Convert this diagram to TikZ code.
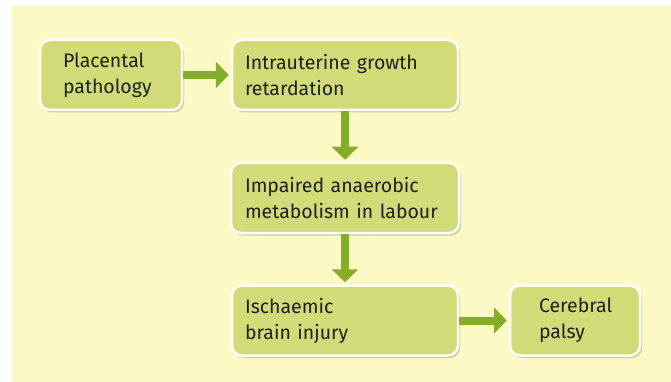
\documentclass[tikz,border=0pt]{standalone}
\usepackage{fontspec}
\setmainfont{Fira Sans}
\usetikzlibrary{arrows.meta,shadows}

\definecolor{bgyellow}{HTML}{FCF9C4}
\definecolor{boxgreen}{HTML}{D1DC78}
\definecolor{arrowgreen}{HTML}{84AE2A}
\definecolor{textdark}{HTML}{1E1E1E}

\tikzset{
  stepbox/.style={rounded corners=10pt, fill=boxgreen, draw=white, line width=2.5pt,
    drop shadow={shadow xshift=2pt, shadow yshift=-2.5pt, opacity=0.18, fill=black},
    align=left, minimum height=70pt, inner ysep=0pt, text=textdark,
    font=\fontsize{19.5}{26}\selectfont},
  flow/.style={arrowgreen, line width=8pt,
    -{Triangle[width=26pt,length=13pt]}, shorten >=2pt}
}

\begin{document}
\begin{tikzpicture}[x=1pt, y=-1pt]
  \useasboundingbox (0,0) rectangle (671,382);
  % Background
  \fill[bgyellow] (12,6) rectangle (671,382);

  % Boxes
  \node[stepbox, text width=96pt, inner xsep=23pt] (plac) at (111,75) {Placental\\pathology};
  \node[stepbox, text width=200pt, inner xsep=13pt] (iugr) at (345,75) {Intrauterine growth\\retardation};
  \node[stepbox, text width=200pt, inner xsep=14pt] (meta) at (345,198) {Impaired anaerobic\\metabolism in labour};
  \node[stepbox, text width=200pt, inner xsep=13pt] (isch) at (345,320.5) {Ischaemic\\brain injury};
  \node[stepbox, text width=72pt, inner xsep=29pt] (palsy) at (575,320.5) {Cerebral\\palsy};

  % Arrows
  \draw[flow] (plac.east) -- (iugr.west);
  \draw[flow] (iugr.south) -- (meta.north);
  \draw[flow] (meta.south) -- (isch.north);
  \draw[flow] (isch.east) -- (palsy.west);
\end{tikzpicture}
\end{document}
